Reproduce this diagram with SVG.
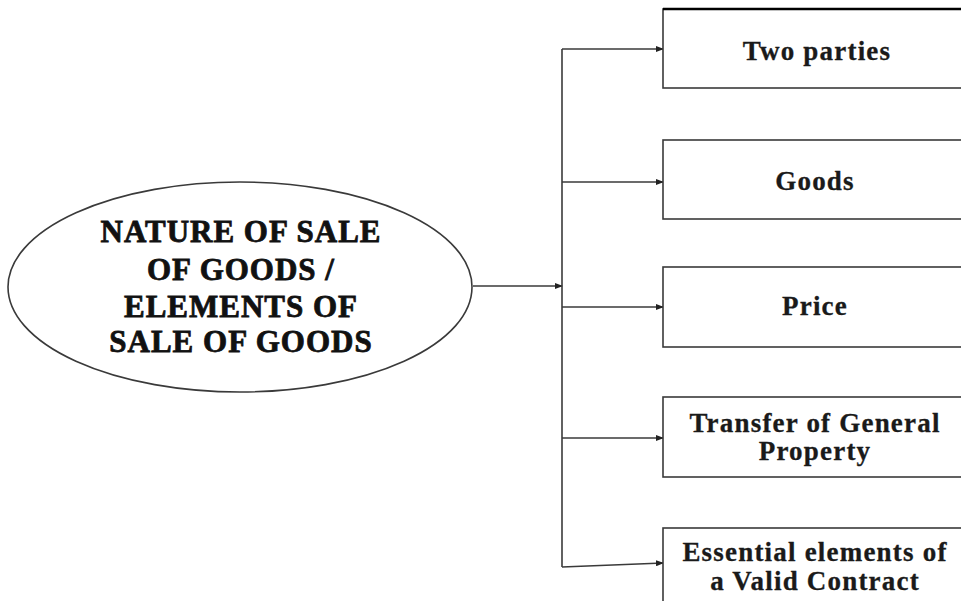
<svg xmlns="http://www.w3.org/2000/svg" width="961" height="601" viewBox="0 0 961 601">
  <style>
    .box { fill: #ffffff; stroke: #3a3a3a; stroke-width: 1.6; }
    .hub { fill: #ffffff; stroke: #3a3a3a; stroke-width: 1.6; }
    .wire { fill: none; stroke: #3a3a3a; stroke-width: 1.6; }
    .hubtext { font-family: "Liberation Serif", "DejaVu Serif", serif; font-weight: 900; font-size: 31px; fill: #111; stroke: #111; stroke-width: 0.8; text-anchor: middle; letter-spacing: 1px; }
    .label { font-family: "Liberation Serif", "DejaVu Serif", serif; font-weight: bold; font-size: 27px; fill: #1a1a1a; stroke: #1a1a1a; stroke-width: 0.3; text-anchor: middle; letter-spacing: 1.2px; }
  </style>
  <defs>
    <marker id="tip" markerWidth="8" markerHeight="6" refX="7" refY="3" orient="auto" markerUnits="userSpaceOnUse">
      <path d="M0,0 L8,3 L0,6 Z" fill="#222"/>
    </marker>
  </defs>
  <rect width="961" height="601" fill="#ffffff"/>

  <!-- connectors -->
  <g id="connectors">
    <line class="wire" x1="473" y1="286" x2="562" y2="286" marker-end="url(#tip)"/>
    <line class="wire" x1="562" y1="49" x2="562" y2="567"/>
    <line class="wire" x1="562" y1="49" x2="663" y2="49" marker-end="url(#tip)"/>
    <line class="wire" x1="562" y1="182" x2="663" y2="182" marker-end="url(#tip)"/>
    <line class="wire" x1="562" y1="307" x2="663" y2="307" marker-end="url(#tip)"/>
    <line class="wire" x1="562" y1="438" x2="663" y2="438" marker-end="url(#tip)"/>
    <line class="wire" x1="562" y1="567" x2="663" y2="563" marker-end="url(#tip)"/>
  </g>

  <!-- central topic -->
  <g id="hub">
    <ellipse class="hub" cx="240" cy="287" rx="232" ry="105"/>
    <text class="hubtext" x="241" y="242">NATURE OF SALE</text>
    <text class="hubtext" x="241" y="280">OF GOODS /</text>
    <text class="hubtext" x="241" y="317">ELEMENTS OF</text>
    <text class="hubtext" x="241" y="352">SALE OF GOODS</text>
  </g>

  <g id="two-parties">
    <rect class="box" x="663" y="9" width="320" height="79"/>
    <line x1="663" y1="9" x2="961" y2="9" stroke="#000" stroke-width="2.5"/>
    <text class="label" x="817" y="60">Two parties</text>
  </g>

  <g id="goods">
    <rect class="box" x="663" y="140" width="320" height="79"/>
    <text class="label" x="815" y="190">Goods</text>
  </g>

  <g id="price">
    <rect class="box" x="663" y="267" width="320" height="80"/>
    <text class="label" x="815" y="315">Price</text>
  </g>

  <g id="transfer">
    <rect class="box" x="663" y="397" width="320" height="80"/>
    <text class="label" x="815" y="432">Transfer of General</text>
    <text class="label" x="815" y="460">Property</text>
  </g>

  <g id="essentials">
    <rect class="box" x="663" y="528" width="320" height="90"/>
    <text class="label" x="815" y="561">Essential elements of</text>
    <text class="label" x="815" y="590">a Valid Contract</text>
  </g>
</svg>
